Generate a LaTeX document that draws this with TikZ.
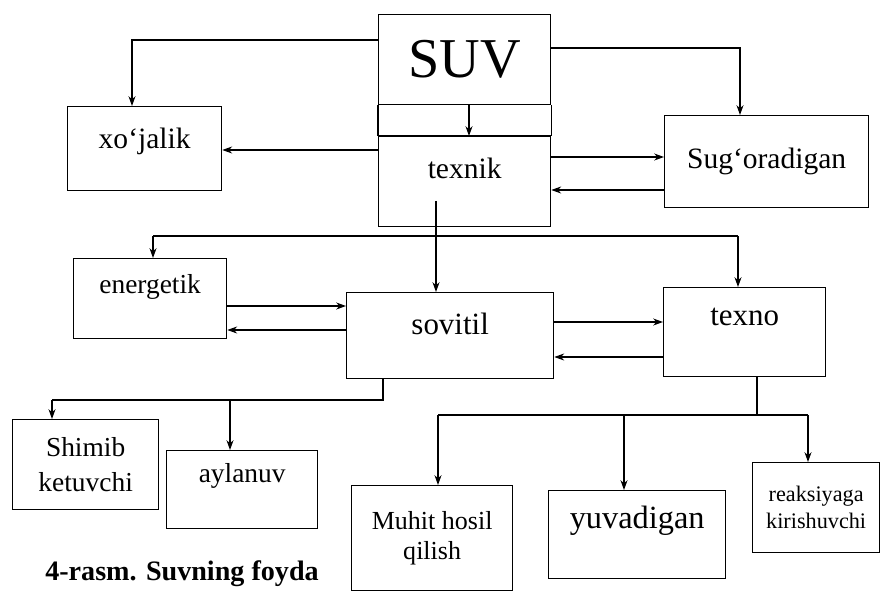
\documentclass[tikz,border=0pt]{standalone}
\usepackage{fontspec}
\setmainfont{Liberation Serif}
\usetikzlibrary{arrows.meta, positioning}

\begin{document}
\begin{tikzpicture}[
    x=0.025cm, y=-0.025cm,
    box/.style={
        draw, rectangle, line width=0.9pt,
        inner sep=4pt, anchor=north west,
        font=\fontsize{21}{25}\selectfont
    },
    small/.style={font=\fontsize{19.5}{25}\selectfont},
    arr/.style={-{Stealth[length=7pt,width=5pt]}, line width=0.9pt},
    link/.style={line width=0.9pt},
    caption/.style={font=\bfseries\fontsize{20}{24}\selectfont, anchor=base west, inner sep=0pt},
]
\useasboundingbox (0,0) rectangle (882,605);

% Top: source and first level
\node[box, minimum width=4.3cm, minimum height=2.25cm,
      font=\fontsize{40}{44}\selectfont] (suv) at (378,14) {SUV};
\node[box, minimum width=4.3cm, text height=26pt, text depth=29.8pt] (texnik) at (378,136) {texnik};
\node[box, minimum width=3.85cm, text height=26pt, text depth=25.5pt] (xojalik) at (67,106) {xo‘jalik};
\node[box, minimum width=5.1cm, minimum height=2.3cm] (sugoradigan) at (664,115) {Sug‘oradigan};

\draw[link] (suv.south west) -- (texnik.north west);
\draw[link] (suv.south east) -- (texnik.north east);
\draw[line width=1.8pt] (texnik.north west) -- (texnik.north east);

% Middle row
\node[box, small, minimum width=3.825cm, text height=21pt, text depth=27.7pt] (energetik) at (73,258) {energetik};
\node[box, font=\fontsize{22}{26}\selectfont, minimum width=5.175cm,
      text height=26pt, text depth=26.9pt] (sovitil) at (346,292) {sovitil};
\node[box, font=\fontsize{22}{26}\selectfont, minimum width=4.05cm,
      text height=23pt, text depth=32.1pt] (texno) at (663,287) {texno};

% Bottom row
\node[box, small, align=center, minimum width=3.65cm, minimum height=2.25cm] (shimib) at (12,419) {Shimib\\ketuvchi};
\node[box, small, minimum width=3.775cm, text height=19pt, text depth=28.3pt] (aylanuv) at (166,450) {aylanuv};
\node[box, align=center, font=\fontsize{18.5}{21}\selectfont,
      minimum width=4.025cm, minimum height=2.625cm] (muhit) at (351,485) {Muhit hosil\\qilish};
\node[box, font=\fontsize{23}{27}\selectfont, minimum width=4.425cm,
      text height=23pt, text depth=31.4pt] (yuvadigan) at (548,490) {yuvadigan};
\node[box, align=center, font=\fontsize{15.8}{19}\selectfont,
      minimum width=3.175cm, minimum height=2.25cm] (reaksiya) at (752,462) {reaksiyaga\\kirishuvchi};

\node[caption] (cap) at (45,580) {4-rasm. Suvning foyda};

% Bus lines
\coordinate (busA) at (153,236);
\coordinate (busB) at (738,236);
\coordinate (busC) at (383,400);
\coordinate (busD) at (52,400);
\coordinate (busE) at (757,415);
\coordinate (busF) at (438,415);
\coordinate (busG) at (808,415);

% Connectors from SUV
\draw[arr] (suv.west |- 0,40) -| (xojalik.north -| 132,0);
\draw[arr] (suv.east |- 0,48) -| (sugoradigan.north -| 740,0);
\draw[arr] (suv.south -| 469,0) -- (texnik.north -| 469,0);

% texnik links
\draw[arr] (texnik.west |- 0,150) -- (xojalik.east |- 0,150);
\draw[arr] (texnik.east |- 0,157) -- (sugoradigan.west |- 0,157);
\draw[arr] (sugoradigan.west |- 0,190) -- (texnik.east |- 0,190);
\draw[arr] (texnik.south -| 436,0) ++(0,-26) -- (sovitil.north -| 436,0);

\draw[link] (busA) -- (busB);
\draw[arr] (busA) -- (energetik.north -| busA);
\draw[arr] (busB) -- (texno.north -| busB);

% sovitil links
\draw[arr] (energetik.east |- 0,306) -- (sovitil.west |- 0,306);
\draw[arr] (sovitil.west |- 0,330) -- (energetik.east |- 0,330);
\draw[arr] (sovitil.east |- 0,322) -- (texno.west |- 0,322);
\draw[arr] (texno.west |- 0,357) -- (sovitil.east |- 0,357);

\draw[link] (sovitil.south -| busC) -- (busC) -- (busD);
\draw[arr] (busD) -- (shimib.north -| busD);
\draw[arr] (busD -| 230,0) -- (aylanuv.north -| 230,0);

% texno branches
\draw[link] (texno.south -| busE) -- (busE);
\draw[link] (busF) -- (busG);
\draw[arr] (busF) -- (muhit.north -| busF);
\draw[arr] (busF -| 624,0) -- (yuvadigan.north -| 624,0);
\draw[arr] (busG) -- (reaksiya.north -| busG);

\end{tikzpicture}
\end{document}
